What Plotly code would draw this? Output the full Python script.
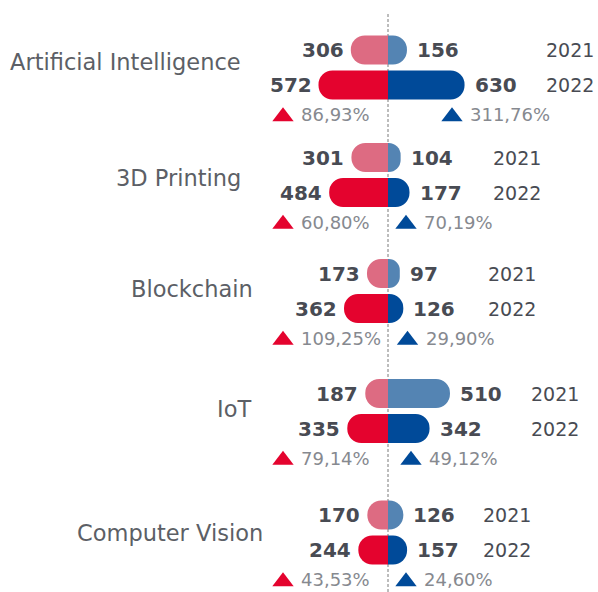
import plotly.graph_objects as go

# data
categories = ["Artificial Intelligence", "3D Printing", "Blockchain", "IoT", "Computer Vision"]
years = ["2021", "2022"]
left_2021 = [306, 301, 173, 187, 170]
left_2022 = [572, 484, 362, 335, 244]
right_2021 = [156, 104, 97, 510, 126]
right_2022 = [630, 177, 126, 342, 157]
left_change = [86.93, 60.80, 109.25, 79.14, 43.53]
right_change = [311.76, 70.19, 29.90, 49.12, 24.60]

# layout, in pixels of the 598x592 page
W, H = 598, 592
CENTER = 388          # px position of the zero line
SCALE = 0.1215        # px per unit
ROW_2021 = [50, 157.5, 273.5, 393.5, 515]
ROW_GAP = 35
PCT_GAP = 29.5
BAR_H = 29
CAT_Y = [62, 178, 289, 408.5, 532.5]
CAT_RIGHT = [243, 243, 255, 253, 265]
YEAR_LEFT = [544, 491, 486, 529, 481]
LEFT_TRI = 283
RIGHT_TRI = [452, 406, 407.5, 411, 406]

PINK, RED = "#dd6b82", "#e4032e"
STEEL, NAVY = "#5484b3", "#004a99"
DARK, MID, LIGHT = "#484b53", "#5c5f66", "#86898f"
FONT = "DejaVu Sans"


def px(x):
    """page pixel -> data units on the x axis"""
    return (x - CENTER) / SCALE


def pct(v):
    return f"{v:.2f}".replace(".", ",") + "%"


y21 = ROW_2021
y22 = [y + ROW_GAP for y in ROW_2021]
ypct = [y + PCT_GAP for y in y22]

fig = go.Figure()
for vals, ys, color, sign in [
    (left_2021, y21, PINK, -1), (left_2022, y22, RED, -1),
    (right_2021, y21, STEEL, 1), (right_2022, y22, NAVY, 1),
]:
    fig.add_trace(go.Bar(
        x=[sign * v for v in vals], y=ys, orientation="h", width=BAR_H,
        marker=dict(color=color, cornerradius="50%", line=dict(width=0)),
        hoverinfo="skip",
    ))

fig.add_trace(go.Scatter(
    x=[px(LEFT_TRI)] * len(categories), y=[y + 2 for y in ypct], mode="markers",
    marker=dict(symbol="triangle-up", size=18.5, color=RED), hoverinfo="skip",
))
fig.add_trace(go.Scatter(
    x=[px(p) for p in RIGHT_TRI], y=[y + 2 for y in ypct], mode="markers",
    marker=dict(symbol="triangle-up", size=18.5, color=NAVY), hoverinfo="skip",
))

ann = []
for i, cat in enumerate(categories):
    ann.append(dict(x=px(CAT_RIGHT[i]), y=CAT_Y[i], text=cat, xanchor="right",
                    font=dict(family=FONT, size=22.5, color=MID)))
    for vals, ys, sign in [(left_2021, y21, -1), (left_2022, y22, -1),
                           (right_2021, y21, 1), (right_2022, y22, 1)]:
        ann.append(dict(x=sign * vals[i], y=ys[i], text=str(vals[i]),
                        xanchor="right" if sign < 0 else "left",
                        xshift=-5 if sign < 0 else 8,
                        font=dict(family=FONT, size=20, color=DARK, weight="bold")))
    for yr, ys in zip(years, [y21, y22]):
        ann.append(dict(x=px(YEAR_LEFT[i]), y=ys[i], text=yr, xanchor="left",
                        font=dict(family=FONT, size=19, color=DARK)))
    ann.append(dict(x=px(LEFT_TRI + 16), y=ypct[i], text=pct(left_change[i]),
                    xanchor="left", font=dict(family=FONT, size=18, color=LIGHT)))
    ann.append(dict(x=px(RIGHT_TRI[i] + 16), y=ypct[i], text=pct(right_change[i]),
                    xanchor="left", font=dict(family=FONT, size=18, color=LIGHT)))

for a in ann:
    a.update(xref="x", yref="y", showarrow=False, yanchor="middle")

fig.update_layout(
    width=W, height=H, margin=dict(l=0, r=0, t=0, b=0),
    paper_bgcolor="white", plot_bgcolor="white",
    barmode="overlay", showlegend=False,
    xaxis=dict(range=[px(0), px(W)], visible=False, fixedrange=True),
    yaxis=dict(range=[H, 0], visible=False, fixedrange=True),
    annotations=ann,
    shapes=[dict(type="line", xref="x", yref="y", x0=0, x1=0, y0=14, y1=H,
                 line=dict(color="#7a7a7a", width=1, dash="3px,2px"), layer="below")],
)

# drop the default 8px body margin so the figure fills the window exactly
fig.write_html("out.html", config={"displayModeBar": False},
               post_script="document.body.style.margin='0';document.body.style.overflow='hidden';")
